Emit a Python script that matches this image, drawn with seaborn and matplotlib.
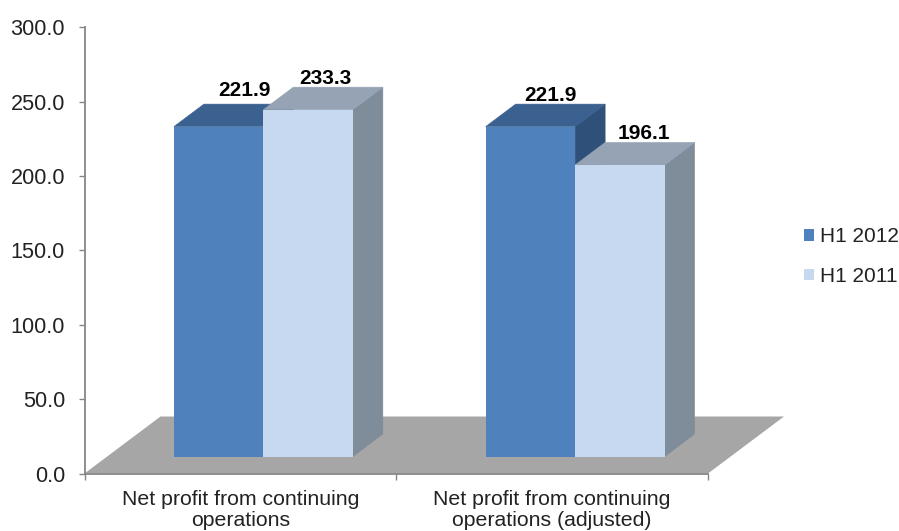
import matplotlib
matplotlib.use("Agg")
import matplotlib.pyplot as plt
from matplotlib.patches import Polygon
import pandas as pd
import seaborn as sns

categories = ["Net profit from continuing\noperations",
              "Net profit from continuing\noperations (adjusted)"]
series_names = ["H1 2012", "H1 2011"]
h1_2012 = [221.9, 221.9]
h1_2011 = [233.3, 196.1]
y_ticks = [0, 50, 100, 150, 200, 250, 300]

front_colors = ["#4F81BD", "#C6D9F1"]
top_colors = ["#3A6190", "#95A3B5"]
side_colors = ["#2F5078", "#7F8C99"]
floor_color = "#A6A6A6"
axis_color = "#868686"
text_color = "#222222"

W, H = 899, 531
sns.set_style("white")
plt.rcParams["font.family"] = ["Liberation Sans", "DejaVu Sans"]

df = pd.DataFrame({
    "category": categories * 2,
    "series": [series_names[0]] * 2 + [series_names[1]] * 2,
    "value": h1_2012 + h1_2011,
})

fig = plt.figure(figsize=(W / 100, H / 100), dpi=100)
ax_left, ax_right, ax_top, ax_bottom = 84.5, 708.0, 27.5, 473.5
ax = fig.add_axes([ax_left / W, 1 - ax_bottom / H,
                   (ax_right - ax_left) / W, (ax_bottom - ax_top) / H])

sns.barplot(data=df, x="category", y="value", hue="series",
            hue_order=series_names, palette=front_colors, saturation=1,
            width=0.574, gap=0, errorbar=None, linewidth=0, ax=ax)

ax.set_xlim(-0.5, 1.5)
ax.set_ylim(0, 300)
px_x = (ax_right - ax_left) / 2.0   # pixels per x unit
px_y = (ax_bottom - ax_top) / 300.0  # pixels per y unit

# pseudo-3D geometry (pixels converted to data units)
floor_dx, floor_dy = 76 / px_x, 57 / px_y
bar_dx, bar_dy = 30 / px_x, 22.5 / px_y
shift_x, lift_y = 23 / px_x, 17 / px_y

ax.add_patch(Polygon([(-0.5, 0), (1.5, 0), (1.5 + floor_dx, floor_dy),
                      (-0.5 + floor_dx, floor_dy)],
                     closed=True, fc=floor_color, ec="none", zorder=1,
                     clip_on=False))

# label nudges from the back-top centre of each bar, in pixels
label_nudges = [[(-4, 8.5), (-10, 3)], [(-13, 3.5), (-6, 3)]]

for s, container in enumerate(ax.containers):
    for c, bar in enumerate(container):
        z = 3 + s
        bar.set_x(bar.get_x() + shift_x)
        bar.set_y(lift_y)
        bar.set_zorder(z + 0.2)
        x0, x1 = bar.get_x(), bar.get_x() + bar.get_width()
        y0, y1 = lift_y, lift_y + bar.get_height()
        ax.add_patch(Polygon([(x1, y0), (x1 + bar_dx, y0 + bar_dy),
                              (x1 + bar_dx, y1 + bar_dy), (x1, y1)],
                             closed=True, fc=side_colors[s], ec=side_colors[s],
                             lw=0.4, zorder=z, clip_on=False))
        ax.add_patch(Polygon([(x0, y1), (x1, y1), (x1 + bar_dx, y1 + bar_dy),
                              (x0 + bar_dx, y1 + bar_dy)],
                             closed=True, fc=top_colors[s], ec=top_colors[s],
                             lw=0.4, zorder=z + 0.1, clip_on=False))
        nx, ny = label_nudges[s][c]
        ax.annotate(f"{bar.get_height():.1f}",
                    xy=((x0 + x1) / 2 + bar_dx, y1 + bar_dy),
                    xytext=(nx * 0.72, ny * 0.72), textcoords="offset points",
                    ha="center", va="baseline", fontsize=15,
                    fontweight="bold", color="black", zorder=10,
                    annotation_clip=False)

ax.set_xlabel("")
ax.set_ylabel("")
sns.despine(ax=ax, top=True, right=True)
for side in ("left", "bottom"):
    ax.spines[side].set_color(axis_color)
    ax.spines[side].set_linewidth(1.3)
    ax.spines[side].set_zorder(2)

ax.set_yticks(y_ticks)
ax.set_yticklabels([f"{v:.1f}" for v in y_ticks])
ax.tick_params(axis="y", which="major", left=True, length=4.5, width=1,
               color=axis_color, labelsize=15.6, labelcolor=text_color, pad=9.5)
ax.set_xticks([0, 1])
ax.set_xticklabels(categories, linespacing=1.12)
ax.set_xticks([-0.5, 0.5, 1.5], minor=True)
ax.tick_params(axis="x", which="major", bottom=False, labelsize=15.3,
               labelcolor=text_color, pad=8.5)
ax.tick_params(axis="x", which="minor", bottom=True, length=4.5, width=1,
               color=axis_color)

sns.move_legend(ax, loc="center left", bbox_to_anchor=(803.5 / W, 1 - 256.5 / H),
                bbox_transform=fig.transFigure, title=None, frameon=False,
                fontsize=15.0, labelcolor=text_color, handlelength=0.5,
                handleheight=0.5, handletextpad=0.28, labelspacing=1.0,
                borderpad=0, borderaxespad=0)

fig.savefig("out.png", dpi=100)
